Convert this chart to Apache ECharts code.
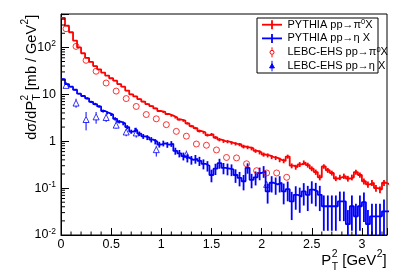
<!DOCTYPE html>
<html><head><meta charset="utf-8">
<script src="https://cdn.jsdelivr.net/npm/echarts@6/dist/echarts.min.js"></script>
<style>html,body{margin:0;padding:0;background:#fff}#c{width:407px;height:277px}</style>
</head><body><div id="c"></div>
<script>
// ---------------- data ----------------
const binWidth = 0.04;           // GeV^2, histogram bins start at 0
const pythiaPi0 = [424,290,210,140,100,75,60,49,40,34,
  29,25,22,19.5,16.5,14.5,12,10,9.0,7.9,
  7.0,6.2,5.6,5.0,4.4,4.2,3.8,3.5,3.2,2.9,
  2.75,2.4,2.1,1.9,1.65,1.55,1.35,1.4,1.2,1.08,
  1.0,0.98,0.92,0.88,0.85,0.77,0.74,0.70,0.62,0.58,
  0.52,0.50,0.46,0.44,0.40,0.38,0.47,0.30,0.28,0.32,
  0.35,0.31,0.26,0.22,0.17,0.29,0.24,0.21,0.16,0.17,
  0.18,0.16,0.17,0.22,0.19,0.14,0.12,0.13,0.10,0.093,
  0.13,0.12];
const pythiaPi0RelErr = [1,1,1,1,1,1,2,2,2,2,
  2,2,2,3,3,3,3,3,3,4,
  4,4,4,4,5,5,5,5,5,5,
  6,6,6,6,7,7,7,7,7,8,
  8,8,8,8,8,9,9,9,9,10,
  10,10,10,10,11,11,10,12,12,12,
  11,12,12,13,14,11,12,12,12,13,
  13,14,14,12,13,15,15,15,16,17,
  15,15];
const pythiaEta = [21,16.5,14.5,12.5,10.3,9.2,8.2,6.9,6.2,5.5,
  4.4,4.0,3.7,3.0,2.6,2.4,2.0,1.6,1.75,1.45,
  1.27,1.2,1.08,0.98,0.85,0.9,0.84,0.88,0.62,0.55,
  0.48,0.44,0.40,0.42,0.38,0.33,0.30,0.19,0.26,0.34,
  0.27,0.26,0.25,0.19,0.165,0.14,0.27,0.15,0.17,0.21,
  0.23,0.085,0.13,0.12,0.13,0.085,0.095,0.052,0.072,0.066,
  0.085,0.072,0.093,0.085,0.072,0.041,0.041,0.041,0.041,0.052,
  0.052,0.017,0.041,0.025,0.041,0.050,0.017,0.025,0.025,0.025,
  0.032,0.032];
const pythiaEtaRelErr = [3,3,4,4,4,5,5,5,6,6,
  7,7,7,8,8,9,10,10,10,11,
  12,12,13,13,14,14,14,14,17,18,
  19,20,21,21,22,24,25,30,27,24,
  27,28,28,32,34,36,25,34,33,30,
  28,45,38,40,38,47,45,60,52,55,
  50,55,50,52,55,70,70,70,70,62,
  62,100,70,85,70,62,100,85,85,85,
  78,80];
const lebcPi0X = [0.05,0.15,0.25,0.35,0.45,0.55,0.65,0.75,0.85,0.95,1.05,1.15,1.25,1.35,1.45,1.55,1.65,1.75,1.85,1.95,2.05,2.15,2.25];
const lebcPi0Y = [250,105,53,31,17.4,11.7,8.1,5.5,3.7,3.0,2.25,1.62,1.28,0.87,0.82,0.65,0.45,0.44,0.33,0.235,0.21,0.21,0.17];
const lebcEtaX = [0.05,0.15,0.25,0.35,0.45,0.55,0.65,0.75,0.95,1.25,2.05];
const lebcEtaY = [15.5,6.5,2.9,3.3,3.2,2.2,1.57,1.5,0.66,0.52,0.12];
const lebcEtaLo = [13.3,5.16,1.70,2.36,2.57,1.85,1.27,1.19,0.47,0.42,0.10];
const lebcEtaHi = [18.3,8.05,4.19,4.19,3.85,2.78,1.85,1.94,0.80,0.63,0.137];
const xMin = 0, xMax = 3.25, xMajor = 0.5, xMinor = 0.1;
const yMin = 0.01, yMax = 515;
const legendLabels = [
  '{t|PYTHIA pp\u2192\u03c0}{s|0}{t|X}',
  '{t|PYTHIA pp\u2192\u03b7 X}',
  '{t|LEBC-EHS pp\u2192\u03c0}{s|0}{t|X}',
  '{t|LEBC-EHS pp\u2192\u03b7 X}'
];
const RED = '#ff0000', BLUE = '#0000ff';
const FONT = '"Liberation Sans", Arial, sans-serif';

// ---------------- build ----------------
function stepData(vals) {
  const d = vals.map((v, i) => [i * binWidth, v]);
  d.push([vals.length * binWidth, vals[vals.length - 1]]);
  return d;
}
function errData(vals, rel) {
  return vals.map((v, i) => {
    const e = v * rel[i] / 100;
    return [(i + 0.5) * binWidth, Math.max(v - e, 1e-5), v + e];
  });
}
function errRender(color, width, gap) {
  return function (params, api) {
    const cs = params.coordSys;
    const x = api.coord([api.value(0), api.value(1)])[0];
    if (x > cs.x + cs.width + 0.5) return null;
    let yLo = api.coord([api.value(0), api.value(1)])[1];
    let yHi = api.coord([api.value(0), api.value(2)])[1];
    yLo = Math.min(yLo, cs.y + cs.height);
    yHi = Math.max(yHi, cs.y);
    const st = { stroke: color, lineWidth: width };
    if (!gap) return { type: 'line', shape: { x1: x, y1: yLo, x2: x, y2: yHi }, style: st };
    const yc = api.coord([api.value(0), api.value(3)])[1];
    const ch = [];
    if (yLo > yc + gap) ch.push({ type: 'line', shape: { x1: x, y1: yLo, x2: x, y2: yc + gap }, style: st });
    if (yHi < yc - gap) ch.push({ type: 'line', shape: { x1: x, y1: yc - gap, x2: x, y2: yHi }, style: st });
    return { type: 'group', children: ch };
  };
}
// minor ticks (ROOT style log 2..9 and 0.1 steps)
const minorTicks = [];
for (let d = -2; d <= 2; d++) for (let k = 2; k <= 9; k++) {
  const v = k * Math.pow(10, d);
  if (v < yMax) minorTicks.push([xMin, v, 0]);
}
for (let i = 1; i * xMinor < xMax; i++) {
  const x = +(i * xMinor).toFixed(4);
  if (Math.abs(x / xMajor - Math.round(x / xMajor)) > 1e-6) minorTicks.push([x, yMin, 1]);
}

// titles built from pieces
const mctx = document.createElement('canvas').getContext('2d');
function tw(t, s) { mctx.font = s + 'px ' + FONT; return mctx.measureText(t).width; }
function buildTitle(tokens, M) {
  const S = M * 0.7, ch = [];
  let x = 0;
  tokens.forEach(tk => {
    if (tk.k === 'm') {
      ch.push({ t: tk.t, x, dy: 0, s: M }); x += tw(tk.t, M);
    } else if (tk.k === 'sup') {
      ch.push({ t: tk.t, x: x + 0.5, dy: -0.46 * M, s: S }); x += tw(tk.t, S) + 0.5;
    } else {
      ch.push({ t: tk.sup, x: x + 0.5, dy: -0.46 * M, s: S });
      ch.push({ t: tk.sub, x: x + 0.5, dy: 0.38 * M, s: S });
      x += Math.max(tw(tk.sup, S), tw(tk.sub, S)) + 0.5;
    }
  });
  return { ch, w: x };
}
function fitTitle(tokens, targetW) {
  const base = buildTitle(tokens, 14);
  return buildTitle(tokens, 14 * targetW / base.w);
}
function titleGroup(t, x, y, rot) {
  return {
    type: 'group', x, y, rotation: rot,
    children: t.ch.map(p => ({
      type: 'text', x: p.x, y: p.dy,
      style: { text: p.t, fontSize: p.s, fontFamily: FONT, fill: '#000', align: 'left', verticalAlign: 'middle' }
    }))
  };
}
const xTitle = fitTitle([{ k: 'm', t: 'P' }, { k: 'st', sub: 'T', sup: '2' }, { k: 'm', t: ' [GeV' }, { k: 'sup', t: '2' }, { k: 'm', t: ']' }], 65.5);
const yTitle = fitTitle([{ k: 'm', t: 'd\u03c3/dP' }, { k: 'st', sub: 'T', sup: '2' }, { k: 'm', t: ' [mb / GeV' }, { k: 'sup', t: '2' }, { k: 'm', t: ']' }], 125);

// legend
const legRich = {
  t: { fontSize: 11, fontFamily: FONT, color: '#000', lineHeight: 13 },
  s: { fontSize: 7.5, fontFamily: FONT, color: '#000', lineHeight: 7, verticalAlign: 'top' }
};
const legY = [24.7, 38.4, 52.3, 66.3];
const legX0 = 262, legX1 = 282, legXc = 272, legTx = 287.5;
const legend = [
  { type: 'rect', shape: { x: 257, y: 18, width: 121, height: 55 }, style: { fill: '#fff', stroke: '#000', lineWidth: 1 } },
  { type: 'line', shape: { x1: legX0, y1: legY[0], x2: legX1, y2: legY[0] }, style: { stroke: RED, lineWidth: 1.8 } },
  { type: 'line', shape: { x1: legXc, y1: legY[0] - 4.5, x2: legXc, y2: legY[0] + 4.5 }, style: { stroke: RED, lineWidth: 1.8 } },
  { type: 'line', shape: { x1: legX0, y1: legY[1], x2: legX1, y2: legY[1] }, style: { stroke: BLUE, lineWidth: 1.8 } },
  { type: 'line', shape: { x1: legXc, y1: legY[1] - 4.5, x2: legXc, y2: legY[1] + 4.5 }, style: { stroke: BLUE, lineWidth: 1.8 } },
  { type: 'circle', shape: { cx: legXc, cy: legY[2], r: 2 }, style: { fill: 'none', stroke: RED, lineWidth: 1 } },
  { type: 'line', shape: { x1: legXc, y1: legY[2] - 5, x2: legXc, y2: legY[2] - 2.5 }, style: { stroke: RED, lineWidth: 1 } },
  { type: 'line', shape: { x1: legXc, y1: legY[2] + 2.5, x2: legXc, y2: legY[2] + 5 }, style: { stroke: RED, lineWidth: 1 } },
  { type: 'polygon', shape: { points: [[legXc, legY[3] - 2.6], [legXc + 2.4, legY[3] + 1.6], [legXc - 2.4, legY[3] + 1.6]] }, style: { fill: BLUE, stroke: BLUE, lineWidth: 1 } },
  { type: 'line', shape: { x1: legXc, y1: legY[3] - 5.5, x2: legXc, y2: legY[3] + 5 }, style: { stroke: BLUE, lineWidth: 1 } }
];
legendLabels.forEach((l, i) => legend.push({
  type: 'text', x: legTx, y: legY[i],
  style: { text: l, rich: legRich, align: 'left', verticalAlign: 'middle' }
}));

const chart = echarts.init(document.getElementById('c'));
chart.setOption({
  animation: false,
  backgroundColor: '#fff',
  grid: { left: 61, right: 20, top: 14, bottom: 42, show: true, borderColor: '#000', borderWidth: 1, backgroundColor: 'transparent' },
  xAxis: {
    type: 'value', min: xMin, max: xMax, interval: xMajor,
    axisLine: { lineStyle: { color: '#000', width: 1 } },
    axisTick: { inside: true, length: 7, lineStyle: { color: '#000' } },
    splitLine: { show: false },
    axisLabel: {
      margin: 3, color: '#000', fontSize: 12.5, fontFamily: FONT,
      formatter: v => { const r = Math.round(v / xMajor) * xMajor; return Math.abs(v - r) > 1e-6 ? '' : String(+r.toFixed(2)); }
    }
  },
  yAxis: {
    type: 'log', logBase: 10, min: yMin, max: yMax,
    axisLine: { show: true, lineStyle: { color: '#000', width: 1 } },
    axisTick: { show: true, inside: true, length: 8, lineStyle: { color: '#000' } },
    splitLine: { show: false },
    axisLabel: {
      margin: 5, color: '#000',
      formatter: v => {
        const l = Math.log10(v), r = Math.round(l);
        if (Math.abs(l - r) > 1e-6) return '';
        if (r === 0) return '{b|1}';
        if (r === 1) return '{b|10}';
        return '{b|10}{s|' + r + '}';
      },
      rich: {
        b: { fontSize: 12.5, fontFamily: FONT, color: '#000', lineHeight: 16 },
        s: { fontSize: 8.5, fontFamily: FONT, color: '#000', lineHeight: 8, verticalAlign: 'top' }
      }
    }
  },
  series: [
    { type: 'line', step: 'end', data: stepData(pythiaPi0), symbol: 'none', lineStyle: { color: RED, width: 1.8 }, z: 3, clip: true },
    { type: 'custom', data: errData(pythiaPi0, pythiaPi0RelErr), encode: { x: 0, y: [1, 2] }, renderItem: errRender(RED, 1.8), z: 3 },
    { type: 'line', step: 'end', data: stepData(pythiaEta), symbol: 'none', lineStyle: { color: BLUE, width: 1.8 }, z: 3, clip: true },
    { type: 'custom', data: errData(pythiaEta, pythiaEtaRelErr), encode: { x: 0, y: [1, 2] }, renderItem: errRender(BLUE, 1.8), z: 3 },
    { type: 'scatter', data: lebcPi0X.map((x, i) => [x, lebcPi0Y[i]]), symbol: 'circle', symbolSize: 6,
      itemStyle: { color: 'transparent', borderColor: RED, borderWidth: 1 }, z: 4 },
    { type: 'custom', data: lebcEtaX.map((x, i) => [x, lebcEtaLo[i], lebcEtaHi[i], lebcEtaY[i]]), encode: { x: 0, y: [1, 2] },
      renderItem: errRender(BLUE, 1, 3), z: 4 },
    { type: 'scatter', data: lebcEtaX.map((x, i) => [x, lebcEtaY[i]]), symbol: 'triangle', symbolSize: 6,
      itemStyle: { color: 'transparent', borderColor: BLUE, borderWidth: 1 }, z: 4 },
    { type: 'custom', data: minorTicks, encode: { x: 0, y: 1 }, silent: true, z: 5,
      renderItem: (params, api) => {
        const p = api.coord([api.value(0), api.value(1)]);
        const horiz = api.value(2) === 0;
        return { type: 'line', shape: horiz ? { x1: p[0], y1: p[1], x2: p[0] + 4, y2: p[1] } : { x1: p[0], y1: p[1], x2: p[0], y2: p[1] - 3.5 },
          style: { stroke: '#000', lineWidth: 1 } };
      } }
  ],
  graphic: [
    titleGroup(xTitle, 386.7 - xTitle.w, 261.3, 0),
    titleGroup(yTitle, 31.7, 139.7, Math.PI / 2),
    ...legend
  ]
});
</script></body></html>
